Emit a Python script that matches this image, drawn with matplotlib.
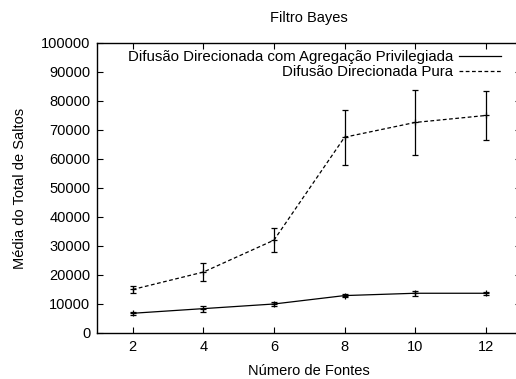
import numpy as np
import matplotlib.pyplot as plt
from matplotlib.lines import Line2D

plt.rcParams['font.family'] = ['Liberation Sans', 'DejaVu Sans']

fontes = [2, 4, 6, 8, 10, 12]

# difusao direcionada com agregacao privilegiada
priv_media = [6800, 8400, 10000, 12900, 13700, 13700]
priv_erro = [500, 1000, 700, 400, 800, 600]

# difusao direcionada pura
pura_media = [15000, 21000, 32000, 67500, 72600, 75000]
pura_erro = [1300, 3000, 4100, 9500, 11300, 8500]

fig = plt.figure(figsize=(5.16, 3.79), dpi=100)
ax = fig.add_axes([0.1888, 0.1214, 0.821, 0.7652])

ax.errorbar(fontes, priv_media, yerr=priv_erro, color='black', lw=0.9,
            marker='+', ms=4, mew=0.9, capsize=2, elinewidth=0.9, capthick=0.9)
ax.errorbar(fontes, pura_media, yerr=pura_erro, color='black', lw=0.9,
            ls=(0, (3, 2)), marker='+', ms=4, mew=0.9, capsize=2,
            elinewidth=0.9, capthick=0.9)

handles = [Line2D([], [], color='black', lw=0.9),
           Line2D([], [], color='black', lw=0.9, ls=(0, (3, 2)))]
labels = ['Difusão Direcionada com Agregação Privilegiada',
          'Difusão Direcionada Pura']
ax.legend(handles, labels, loc='upper right', bbox_to_anchor=(0.953, 0.975),
          frameon=False, markerfirst=False, fontsize=10.8, handlelength=2.8,
          handletextpad=0.4, labelspacing=0.06, borderpad=0, borderaxespad=0)

ax.set_xlim(1, 13)
ax.set_ylim(0, 100000)
ax.set_xticks(fontes)
ax.set_yticks(np.arange(0, 100001, 10000))
ax.tick_params(direction='in', length=4, width=0.8, top=True, right=True,
               labelsize=10.5, pad=5)
for s in ax.spines.values():
    s.set_linewidth(1.0)

ax.set_xlabel('Número de Fontes', fontsize=10.5, labelpad=7.5)
ax.set_ylabel('Média do Total de Saltos', fontsize=10.5, labelpad=10)
ax.set_title('Filtro Bayes', fontsize=10.5, pad=15)

plt.savefig('out.png', dpi=100)
